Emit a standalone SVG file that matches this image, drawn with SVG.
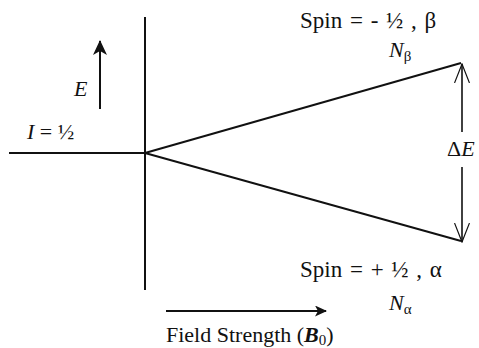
<svg xmlns="http://www.w3.org/2000/svg" width="479" height="348" viewBox="0 0 479 348">
<style>
text{font-family:"Liberation Serif","Times New Roman",serif;fill:#111;font-size:22px}
.big{font-size:23px;word-spacing:2px}
.it{font-style:italic}
.ln{stroke:#111;stroke-width:2;fill:none}
.thin{stroke:#111;stroke-width:1.6;fill:none}
</style>
<defs>
<marker id="fillBig" viewBox="0 0 15 14" refX="14" refY="7" markerWidth="7.5" markerHeight="7" orient="auto" markerUnits="strokeWidth">
<path d="M0,0 L15,7 L0,14 L4,7 z" fill="#111"/>
</marker>
<marker id="fill" viewBox="0 0 12 11" refX="11" refY="5.5" markerWidth="6" markerHeight="5.5" orient="auto" markerUnits="strokeWidth">
<path d="M0,0 L12,5.5 L0,11 L3,5.5 z" fill="#111"/>
</marker>
<marker id="open" viewBox="0 0 20 16" refX="19" refY="8" markerWidth="12.5" markerHeight="10" orient="auto" markerUnits="strokeWidth">
<path d="M0,0.5 L19,8 L0,15.5" fill="none" stroke="#111" stroke-width="1.2"/>
</marker>
</defs>
<g id="axes">
<line class="ln" x1="145" y1="17" x2="145" y2="290"/>
<line class="ln" x1="9" y1="153" x2="145" y2="153"/>
</g>
<g id="connectors">
<line class="ln" x1="145" y1="153" x2="461" y2="63"/>
<line class="ln" x1="145" y1="153" x2="461" y2="241"/>
<line class="ln" x1="100" y1="109" x2="100" y2="41" marker-end="url(#fillBig)"/>
<line class="ln" x1="166" y1="311" x2="326" y2="311" marker-end="url(#fill)"/>
<line class="thin" x1="462" y1="132" x2="462" y2="64" marker-end="url(#open)"/>
<line class="thin" x1="462" y1="167" x2="462" y2="242" marker-end="url(#open)"/>
</g>
<g id="labels">
<text x="74" y="96" class="it">E</text>
<text x="27" y="139"><tspan class="it">I</tspan> = ½</text>
<text x="300" y="28" class="big">Spin = - ½ , β</text>
<text x="389" y="57" class="it">N<tspan font-size="15" font-style="normal" dy="4">β</tspan></text>
<text x="447" y="156">Δ<tspan class="it">E</tspan></text>
<text x="300" y="277" class="big">Spin = + ½ , α</text>
<text x="389" y="310" class="it">N<tspan font-size="15" font-style="normal" dy="4">α</tspan></text>
<text x="166" y="342">Field Strength (<tspan font-weight="bold" font-style="italic">B</tspan><tspan font-size="15" dy="3">0</tspan><tspan dy="-3">)</tspan></text>
</g>
</svg>
